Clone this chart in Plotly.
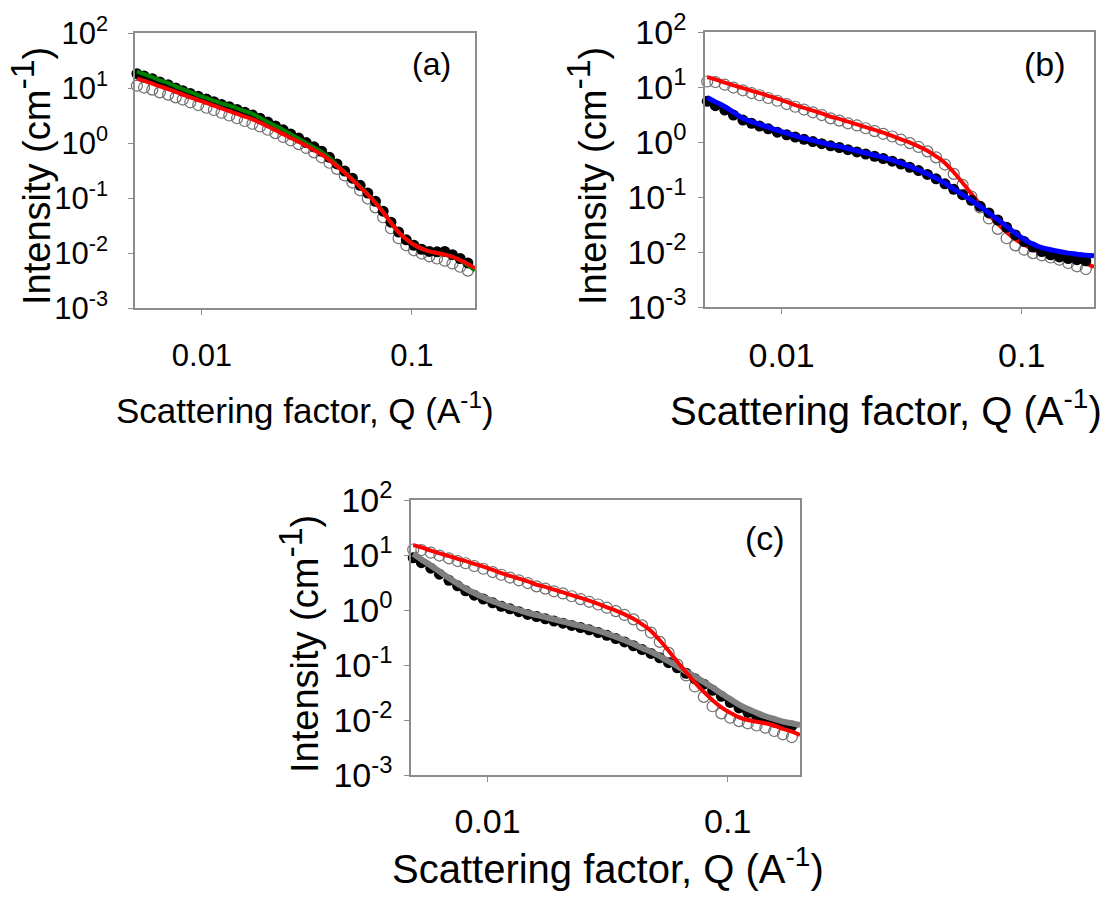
import plotly.graph_objects as go

# Scattering vector Q (A^-1), shared by all panels
q = [0.0049, 0.0053, 0.0058, 0.0063, 0.0069, 0.0075, 0.0081, 0.0088, 0.0096, 0.0105,
     0.0114, 0.0124, 0.0135, 0.0147, 0.0160, 0.0174, 0.0189, 0.0206, 0.0224, 0.0244,
     0.0265, 0.0289, 0.0314, 0.0342, 0.0372, 0.0405, 0.0440, 0.0479, 0.0521, 0.0567,
     0.0617, 0.0671, 0.0730, 0.0795, 0.0865, 0.0941, 0.1024, 0.1114, 0.1212, 0.1319,
     0.1435, 0.1562, 0.1699, 0.1849, 0.2000]

# panel (a): open circles, black circles, green fit, red fit
open_a = [11.0, 10.2, 9.33, 8.32, 7.59, 6.76, 6.17, 5.50, 4.90, 4.37,
          3.98, 3.55, 3.16, 2.82, 2.51, 2.24, 2.00, 1.74, 1.51, 1.29,
          1.12, 0.955, 0.813, 0.676, 0.550, 0.437, 0.339, 0.257, 0.191, 0.138,
          0.0977, 0.0676, 0.0447, 0.0282, 0.0186, 0.0138, 0.0112, 0.00977, 0.00871, 0.00794,
          0.00724, 0.00646, 0.00562, 0.00479, 0.00407]
black_a = [18.2, 16.6, 14.8, 12.9, 11.5, 10.0, 8.91, 7.94, 7.08, 6.31,
           5.62, 5.01, 4.57, 4.07, 3.63, 3.24, 2.82, 2.40, 2.04, 1.74,
           1.45, 1.23, 1.02, 0.851, 0.708, 0.550, 0.417, 0.309, 0.229, 0.170,
           0.123, 0.0871, 0.0575, 0.0363, 0.0240, 0.0174, 0.0138, 0.0117, 0.0107, 0.0105,
           0.0107, 0.00933, 0.00794, 0.00661, 0.00562]
green_a = [20.0, 17.8, 15.8, 13.8, 12.3, 10.7, 9.55, 8.51, 7.41, 6.61,
           5.89, 5.25, 4.79, 4.27, 3.80, 3.39, 2.88, 2.40, 2.04, 1.74,
           1.45, 1.20, 1.00, 0.832, 0.692, 0.537, 0.398, 0.295, 0.219, 0.162,
           0.117, 0.0832, 0.0562, 0.0355, 0.0240, 0.0178, 0.0141, 0.0120, 0.0107, 0.0100,
           0.00933, 0.00851, 0.00741, 0.00603, 0.00479]
red_a = [14.8, 13.5, 12.0, 10.7, 9.55, 8.51, 7.59, 6.76, 6.03, 5.37,
         4.79, 4.27, 3.80, 3.39, 3.02, 2.69, 2.34, 2.00, 1.70, 1.45,
         1.23, 1.05, 0.891, 0.741, 0.617, 0.490, 0.380, 0.288, 0.214, 0.158,
         0.115, 0.0813, 0.0550, 0.0355, 0.0240, 0.0178, 0.0141, 0.0120, 0.0107, 0.0100,
         0.00933, 0.00851, 0.00741, 0.00631, 0.00525]

# panels (b) and (c): open circles and red fit
open_bc = [12.6, 12.3, 11.0, 9.77, 8.71, 7.76, 7.08, 6.31, 5.62, 4.90,
           4.37, 3.89, 3.47, 3.09, 2.69, 2.45, 2.19, 2.00, 1.78, 1.58,
           1.41, 1.26, 1.10, 0.955, 0.813, 0.676, 0.525, 0.389, 0.263, 0.166,
           0.102, 0.0646, 0.0407, 0.0263, 0.0178, 0.0132, 0.0110, 0.00955, 0.00871, 0.00794,
           0.00724, 0.00631, 0.00550, 0.00490, 0.00437]
red_bc = [15.1, 13.8, 12.0, 10.7, 9.55, 8.51, 7.76, 6.92, 6.17, 5.37,
          4.68, 4.17, 3.72, 3.31, 2.88, 2.63, 2.34, 2.09, 1.86, 1.66,
          1.48, 1.29, 1.12, 0.977, 0.832, 0.692, 0.550, 0.417, 0.282, 0.182,
          0.115, 0.0741, 0.0479, 0.0324, 0.0229, 0.0170, 0.0135, 0.0112, 0.0100, 0.00933,
          0.00871, 0.00794, 0.00692, 0.00617, 0.00537]

# panel (b): black circles and blue fit
black_b = [5.50, 4.57, 3.80, 3.09, 2.51, 2.19, 1.95, 1.74, 1.51, 1.35,
           1.23, 1.12, 1.02, 0.933, 0.851, 0.794, 0.724, 0.661, 0.603, 0.550,
           0.501, 0.447, 0.398, 0.347, 0.302, 0.257, 0.214, 0.174, 0.138, 0.110,
           0.0871, 0.0676, 0.0513, 0.0380, 0.0282, 0.0204, 0.0155, 0.0123, 0.0102, 0.00891,
           0.00813, 0.00759, 0.00724, 0.00692, 0.00676]
blue_b = [6.46, 5.37, 4.37, 3.47, 2.69, 2.34, 2.09, 1.86, 1.62, 1.45,
          1.29, 1.17, 1.07, 0.977, 0.891, 0.832, 0.759, 0.692, 0.631, 0.575,
          0.525, 0.468, 0.417, 0.363, 0.309, 0.263, 0.219, 0.178, 0.141, 0.110,
          0.0871, 0.0676, 0.0513, 0.0389, 0.0295, 0.0219, 0.0170, 0.0138, 0.0120, 0.0110,
          0.0102, 0.00955, 0.00912, 0.00871, 0.00851]

# panel (c): black circles and gray fit
black_c = [8.91, 7.24, 5.75, 4.47, 3.47, 2.75, 2.24, 1.86, 1.58, 1.35,
           1.17, 1.05, 0.933, 0.832, 0.759, 0.692, 0.631, 0.575, 0.525, 0.479,
           0.437, 0.389, 0.347, 0.302, 0.263, 0.224, 0.191, 0.162, 0.135, 0.110,
           0.0891, 0.0708, 0.0562, 0.0447, 0.0347, 0.0269, 0.0209, 0.0166, 0.0138, 0.0117,
           0.0102, 0.00912, 0.00832, 0.00776, 0.00724]
gray_c = [10.5, 8.32, 6.46, 5.01, 3.80, 3.02, 2.45, 2.04, 1.70, 1.45,
          1.26, 1.12, 1.00, 0.891, 0.813, 0.741, 0.676, 0.617, 0.562, 0.513,
          0.468, 0.417, 0.372, 0.324, 0.282, 0.240, 0.204, 0.174, 0.145, 0.117,
          0.0955, 0.0759, 0.0617, 0.0490, 0.0389, 0.0302, 0.0240, 0.0191, 0.0158, 0.0135,
          0.0117, 0.0105, 0.00933, 0.00871, 0.00813]

y_tickvals = [1e-3, 1e-2, 1e-1, 1, 10, 100]
y_ticktext = ["10<sup>-3</sup>", "10<sup>-2</sup>", "10<sup>-1</sup>",
              "10<sup>0</sup>", "10<sup>1</sup>", "10<sup>2</sup>"]
x_tickvals = [0.01, 0.1]
x_ticktext = ["0.01", "0.1"]
panel_labels = ["(a)", "(b)", "(c)"]
x_title = "Scattering factor, Q (A<sup>-1</sup>)"

FONT = "Liberation Sans, Arial, sans-serif"
W, H = 1114, 899
AX = "#8c8c8c"


def px_x(v):
    return v / W


def px_y(v):
    return 1 - v / H


def y_title(size):
    return ("Intensity (cm<sup><span style='font-size:%dpx'>-1</span></sup>)" % int(size * 0.9))


fig = go.Figure()


def open_trace(vals, xa, ya):
    return go.Scatter(x=q, y=vals, xaxis=xa, yaxis=ya, mode="markers",
                      marker=dict(symbol="circle-open", size=11, color="#6e6e6e",
                                  line=dict(width=1.2, color="#6e6e6e")),
                      showlegend=False, cliponaxis=False)


def black_trace(vals, xa, ya):
    return go.Scatter(x=q, y=vals, xaxis=xa, yaxis=ya, mode="markers",
                      marker=dict(symbol="circle", size=11, color="black"),
                      showlegend=False, cliponaxis=False)


def line_trace(vals, color, width, xa, ya):
    return go.Scatter(x=q, y=vals, xaxis=xa, yaxis=ya, mode="lines",
                      line=dict(color=color, width=width, shape="spline"),
                      showlegend=False, cliponaxis=False)


# panel (a)
fig.add_trace(open_trace(open_a, "x", "y"))
fig.add_trace(black_trace(black_a, "x", "y"))
fig.add_trace(line_trace(green_a, "#008000", 4, "x", "y"))
fig.add_trace(line_trace(red_a, "#ff0000", 4, "x", "y"))
# panel (b)
fig.add_trace(open_trace(open_bc, "x2", "y2"))
fig.add_trace(line_trace(red_bc, "#ff0000", 4, "x2", "y2"))
fig.add_trace(black_trace(black_b, "x2", "y2"))
fig.add_trace(line_trace(blue_b, "#0000ff", 5, "x2", "y2"))
# panel (c)
fig.add_trace(open_trace(open_bc, "x3", "y3"))
fig.add_trace(black_trace(black_c, "x3", "y3"))
fig.add_trace(line_trace(gray_c, "#7f7f7f", 6, "x3", "y3"))
fig.add_trace(line_trace(red_bc, "#ff0000", 4, "x3", "y3"))

# panel geometry in pixels
panels = [
    dict(l=135, r=475, t=33, b=308, fs=31, xfs=35, yfs=38, ystand=14, xstand=14,
         xt=(305, 408), yt=(30, 176), lab=(432, 64), labfs=32),
    dict(l=705, r=1094, t=32, b=307, fs=34, xfs=40, yfs=38, ystand=5, xstand=12,
         xt=(886, 408), yt=(586, 176), lab=(1045, 64), labfs=34),
    dict(l=411, r=800, t=500, b=775, fs=34, xfs=40, yfs=38, ystand=5, xstand=10,
         xt=(608, 866), yt=(298, 644), lab=(765, 538), labfs=34),
]

layout = dict(width=W, height=H, margin=dict(l=0, r=0, t=0, b=0, autoexpand=False),
              paper_bgcolor="white", plot_bgcolor="white",
              font=dict(family=FONT, color="black"), annotations=[])

for i, p in enumerate(panels):
    sfx = "" if i == 0 else str(i + 1)
    xa = dict(type="log", range=[-2.319, -0.699], automargin=False,
              domain=[px_x(p["l"]), px_x(p["r"])], anchor="y" + sfx,
              tickmode="array", tickvals=x_tickvals, ticktext=x_ticktext,
              ticks="outside", ticklen=5, tickwidth=1, tickcolor=AX,
              showline=True, linecolor=AX, linewidth=1.5, mirror=True,
              showgrid=False, zeroline=False, ticklabelstandoff=p["xstand"],
              tickfont=dict(size=p["fs"], family=FONT, color="black"))
    ya = dict(type="log", range=[-3, 2], automargin=False,
              domain=[px_y(p["b"]), px_y(p["t"])], anchor="x" + sfx,
              tickmode="array", tickvals=y_tickvals, ticktext=y_ticktext,
              ticks="outside", ticklen=5, tickwidth=1, tickcolor=AX,
              showline=True, linecolor=AX, linewidth=1.5, mirror=True,
              showgrid=False, zeroline=False, ticklabelstandoff=p["ystand"],
              tickfont=dict(size=p["fs"], family=FONT, color="black"))
    layout["xaxis" + sfx] = xa
    layout["yaxis" + sfx] = ya
    layout["annotations"].append(dict(
        text=x_title, x=px_x(p["xt"][0]), y=px_y(p["xt"][1]), xref="paper", yref="paper",
        xanchor="center", yanchor="middle", showarrow=False,
        font=dict(size=p["xfs"], family=FONT, color="black")))
    layout["annotations"].append(dict(
        text=y_title(p["yfs"]), x=px_x(p["yt"][0]), y=px_y(p["yt"][1]), xref="paper", yref="paper",
        xanchor="center", yanchor="middle", showarrow=False, textangle=-90,
        font=dict(size=p["yfs"], family=FONT, color="black")))
    layout["annotations"].append(dict(
        text=panel_labels[i], x=px_x(p["lab"][0]), y=px_y(p["lab"][1]), xref="paper", yref="paper",
        xanchor="center", yanchor="middle", showarrow=False,
        font=dict(size=p["labfs"], family=FONT, color="black")))

fig.update_layout(**layout)
fig.write_html("out.html")
